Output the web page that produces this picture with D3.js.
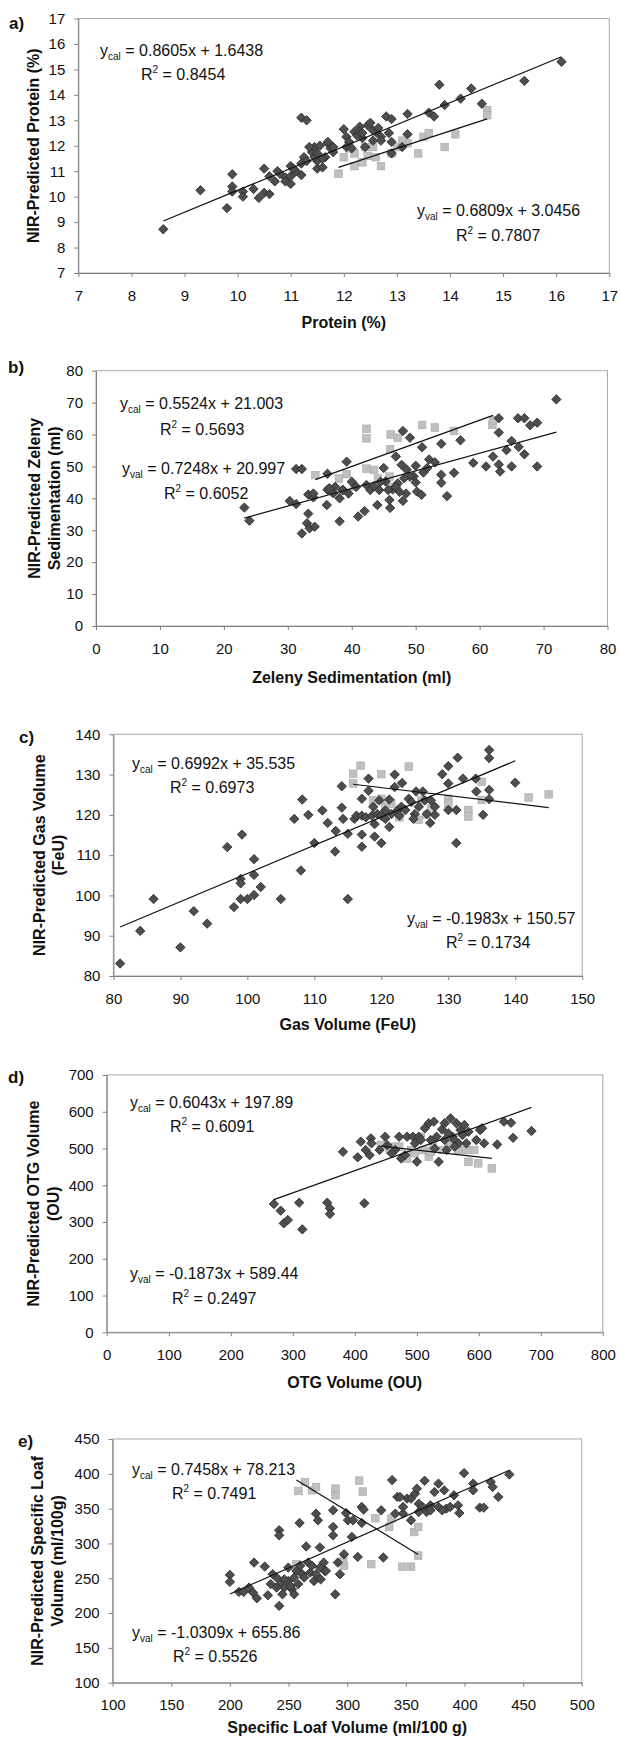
<!DOCTYPE html>
<html>
<head>
<meta charset="utf-8">
<script src="https://cdn.jsdelivr.net/npm/d3@7"></script>
<style>
  body { margin: 0; background: #fff; }
  svg { display: block; }
  text { font-family: "Liberation Sans", Arial, sans-serif; fill: #111; }
</style>
</head>
<body>
<div id="chart"></div>
<script>

// ---- a) protein ----
var proteinTicks = [7, 8, 9, 10, 11, 12, 13, 14, 15, 16, 17];
var proteinCal = [[8.6,8.72],[9.3,10.25],[9.9,10.88],[9.8,9.55],[9.9,10.4],[9.9,10.2],[10.1,10.2],[10.1,10.0],[10.3,10.3],[10.4,9.95],
  [10.5,11.1],[10.5,10.15],[10.6,10.1],[10.6,10.8],[10.7,10.6],[10.8,10.9],[10.9,10.75],[11.0,11.2],[11.0,10.5],[11.0,10.8],
  [10.9,10.6],[11.2,13.1],[11.3,13.0],[11.2,10.85],[11.25,11.55],[11.4,11.75],[11.45,11.95],[11.5,11.1],[11.5,11.4],[11.55,12.0],
  [11.6,11.15],[11.65,11.55],[11.7,12.1],[11.75,11.9],[11.8,11.75],[12.0,12.65],[12.05,12.35],[12.1,12.15],[12.2,12.55],[12.3,12.75],
  [12.35,12.3],[12.45,12.8],[12.5,12.9],[12.55,12.2],[12.6,12.55],[12.7,12.35],[12.8,13.15],[12.9,13.05],[12.85,12.5],[12.9,12.15],
  [13.1,11.95],[13.2,13.25],[13.2,12.45],[13.6,13.3],[13.7,13.15],[13.8,14.4],[13.9,13.6],[14.2,13.85],[14.4,14.25],[14.6,13.65],
  [15.4,14.55],[16.1,15.3],[11.35,11.95],[11.45,11.55],[11.5,11.7],[11.6,11.5],[11.7,12.15],[11.8,11.95],[12.05,11.95],[12.15,11.9],
  [12.25,12.4],[12.3,12.55],[12.35,12.5],[12.55,12.6],[12.65,12.7],[12.7,12.2],[12.4,11.95],[10.75,11.0],[11.1,11.0],[11.2,11.3],
  [11.3,11.4],[11.05,11.1],[12.9,11.7]];
var proteinVal = [[11.9,10.9],[12.2,11.2],[12.4,11.95],[12.45,11.6],[12.7,11.2],[12.6,11.55],[12.9,11.7],[13.4,11.7],[13.2,12.1],
  [13.5,12.35],[13.6,12.5],[13.9,11.95],[14.1,12.45],[14.7,13.4],[14.7,13.2],[12.1,11.9],[12.2,11.7],[12.0,11.55],[12.55,11.95],
  [13.0,11.95],[12.35,11.35],[13.1,12.2]];
var proteinCalFit = [0.8605, 1.6438, 0.8454];
var proteinValFit = [0.6809, 3.0456, 0.7807];

// ---- b) zeleny ----
var zelenyTicks = [0, 10, 20, 30, 40, 50, 60, 70, 80];
var zelenyCal = [[23.2,37.1],[24,33],[31.3,49.2],[32.2,49.2],[30.3,39.2],[31.3,38.2],[33.2,41.2],[33.2,35.2],[33,32.2],[32.2,29],
  [33.4,30.6],[34.2,31.1],[34,40.3],[36.2,47.7],[36.1,37.9],[36.2,42.7],[37.1,41.6],[38.1,32.8],[38.1,40],[38.6,42.7],
  [39.2,51.5],[39.5,41.5],[40,45.2],[41,34.3],[42,36],[42.3,44.2],[44,37.9],[44.3,42.6],[45,49.5],[45.3,45.3],
  [45.9,39.5],[46,37],[46.4,42.8],[46.9,53.1],[47.2,44.7],[47.8,50.5],[48,61.1],[48,39.2],[48.5,41.5],[48.6,49],
  [49.1,59],[49.7,46.9],[50,45],[50,50.2],[50.2,42.1],[50.9,41.1],[51,56],[51.2,48.1],[52.1,52.2],[53,51.3],
  [54,57.1],[54,47.4],[54,44.9],[54.9,40.7],[56,48],[57,58.2],[59,51.1],[61,50],[62.1,53.1],[63,65.1],
  [63,60.6],[63,50.6],[63.2,48.4],[64.2,55.1],[65,58],[65,50],[66,65.1],[66.1,56.1],[67,65.1],[67,53.8],
  [67.9,62.9],[69,63.7],[69,50],[72,71],[37.4,43.6],[38.6,42.5],[40.7,43.6],[42.9,42.6],[43.5,43.8],[44.5,45.2],
  [45.7,42.6],[46.9,43.6],[49.1,46.8],[48.2,46.3],[51.8,49.5],[34,41.5],[36.5,43.2],[47.5,42]];
var zelenyVal = [[42.3,58.8],[42.3,61.8],[34.3,47.3],[38,46.2],[39.2,47.6],[42.3,49.3],[43.5,48.9],[46,55.4],[46.1,60],
  [47.2,59],[51,63],[53,62.2],[56,61.1],[62,63],[62.1,64.5],[40.4,43.6],[44.1,46.2],[45.9,46.8],[45.9,43.6],[37.7,41.5]];
var zelenyCalFit = [0.5524, 21.003, 0.5693];
var zelenyValFit = [0.7248, 20.997, 0.6052];

// ---- c) gas volume ----
var gasXTicks = [80, 90, 100, 110, 120, 130, 140, 150];
var gasYTicks = [80, 90, 100, 110, 120, 130, 140];
var gasCal = [[81,83.1],[84,91.2],[86,99.1],[90,87.1],[92,96.1],[94,93],[97,112],[98,97.1],[99.2,115.1],[99,104.1],
  [99,103],[99,99.1],[100,99.1],[101,109],[101,105.1],[101,100.1],[102,102.1],[105,99.1],[107,119],[108.2,123.8],
  [108,106.2],[109.1,120],[110,113],[111.2,121.1],[112,118],[113.1,110.9],[113.2,116],[114.1,127.1],[114.1,121.8],[114.3,119],
  [115,115.3],[115,99.1],[116,119],[117.1,112.1],[117.1,115.1],[117.1,124],[118.1,129],[118.1,126],[119,114.6],[119,117.7],
  [120,113],[121.2,117],[121.2,123.8],[122,130],[122,126.9],[123.1,127.9],[124.1,124],[125.2,125.8],[126.2,125.8],[127.3,118],
  [128,122],[128,120],[129.1,130.1],[130,132.1],[130,127.8],[130,121.2],[131.2,121.2],[131.2,113],[131.4,134.2],[132.2,129],
  [134.1,129],[134.2,125.8],[135.2,120],[136.1,136.1],[136.1,134.1],[136.1,126.2],[136.1,123.9],[140,128],
  [116.3,119.8],[117.1,119.8],[117.7,119.4],[118.6,119.8],[119.4,120.2],[120,119.8],[120.6,119],[121.5,120.2],[122.4,121.1],
  [123,122],[123.6,121.2],[124.5,123.2],[125,120.2],[125.6,122],[126.5,123.6],[127.4,123.6],[124.8,119],[122.7,119.8],
  [120.6,121.1],[119.7,123.6],[118.8,122],[126.8,120.2]];
var gasVal = [[115.8,130.2],[115.8,127.8],[116.9,132.2],[120,130.1],[124.1,132],[120,124],[120.6,122],[122.7,119.4],
  [126,123.6],[127.5,121.6],[130,124],[130,122.8],[133,121.2],[133,119.6],[135,128.2],[135,123.7],[142,124.3],[145,125.1],
  [126.8,120],[125.6,118.8],[118.8,123.6],[121.5,122.8]];
var gasCalFit = [0.6992, 35.535, 0.6973];
var gasValFit = [-0.1983, 150.57, 0.1734];

// ---- d) OTG volume ----
var otgXTicks = [0, 100, 200, 300, 400, 500, 600, 700, 800];
var otgYTicks = [0, 100, 200, 300, 400, 500, 600, 700];
var otgCal = [[269.6,349],[280.5,331],[285.5,296.5],[292,305.5],[310.4,352.7],[315.5,280],[355.6,352.7],[360,337.3],[360,321.9],
  [381,491],[404.7,476],[409.8,518.6],[415.5,351],[417.5,496],[426,527.6],[427,514],[424,482],[449,532],[452.5,509],
  [471.6,532],[474.8,473],[484.4,532],[494,532],[500.3,464],[503.5,532],[513,555],[519.4,568.6],[527.6,573],[529,500],
  [535.4,464],[540.5,552],[545,568.6],[554.5,582],[557.7,532],[564,568.6],[570.4,550.4],[576.7,564],[580,514],[596,523],
  [602,550.4],[605.4,555],[608.7,514],[629.7,511],[640.6,573],[652,570],[655.3,529],[685,547.5],
  [465.2,496],[481,482],[497,514],[506.5,523],[522.5,523],[532,532],[545,523],[551,541],[561,523],[567.4,514],
  [573.8,536.5],[583.4,545.5],[561,505],[548.2,496],[440,496],[459.2,487]];
var otgVal = [[442,510],[456,500],[465,505],[490.8,496],[506.5,532],[509.6,496],[519.4,478],[522.5,491.5],[541.6,496],[551,514],
  [560.8,514],[567,496],[580,496],[583.4,464],[592.6,496],[599,459.6],[621,446],[484.4,473],[525.7,509],[471.6,505],[497,487]];
var otgCalFit = [0.6043, 197.89, 0.6091];
var otgValFit = [-0.1873, 589.44, 0.2497];

// ---- e) specific loaf volume ----
var loafXTicks = [100, 150, 200, 250, 300, 350, 400, 450, 500];
var loafYTicks = [100, 150, 200, 250, 300, 350, 400, 450];
var loafCal = [[200,254.8],[200,244.8],[207.7,230.4],[211.7,230.4],[220.6,272.5],[216.3,236.6],[219.7,229.5],[223,221.3],
  [229.7,266.8],[232.4,225.6],[234.8,241.6],[239.8,251],[242,319],[242,311.6],[242,210.3],[243,241.6],[246.4,236.6],
  [249.8,246],[253,234],[256.7,260.5],[259.4,329.4],[260,268],[261.7,255.8],[265,295.7],[266.7,272.5],[271.7,246],
  [273.4,342.8],[275,333.3],[276.7,294.3],[280,272.5],[281,260.5],[288,347.6],[288,323.7],[288,311.6],[289.8,227],
  [292,272.5],[293.8,255.8],[297.3,284.5],[299,343.7],[300.6,333.3],[304,309.4],[305,333.3],[309,280.7],[312.4,352.4],
  [314,348.6],[312.4,329.4],[330.8,279.8],[329,347.6],[338.3,391],[342.7,366.8],[347.6,342.8],[351,364.4],[354.4,364.4],
  [357.8,371.5],[359.4,378.7],[354.4,333.3],[361,345.2],[366,390],[367.7,345.2],[371,354.7],[374.4,373.9],[377.8,385.9],
  [382.7,376.3],[384.5,350],[391,369.2],[394.5,354.7],[395.6,343.7],[399.6,401],[407.4,385.9],[407.4,376.3],[413,351.4],
  [416.4,351.4],[422.4,388.3],[424,381.1],[428.8,366.8],[438.2,399],
  [246.4,248.4],[251.5,238.8],[254.8,251],[258.2,241.6],[263.3,251],[268.4,258.1],[270,268],[273.4,255.8],[276.7,265.3],
  [277.4,248.4],[281.8,260.5],[236.5,255.8],[239.8,236.6],[244.8,227],[254.8,227],[249.8,265.3],[341,342.8],[347.6,352.4],
  [361,357],[364.4,352.4],[371,347.6],[377.8,352.4],[381,347.6],[387.8,352.4],[345,366.8]];
var loafVal = [[258.4,375.3],[264,388.2],[270,376.3],[273.4,381],[290,378.7],[290,369.2],[310.2,390.2],[313.3,374.5],
  [297.3,268],[296.6,275.2],[320.5,270.3],[324,336.2],[335.8,323.7],[337.6,335.7],[347,266.6],[354.4,266.6],[357.1,316.4],
  [360.5,282.6],[360.5,323.7],[256.7,270]];
var loafCalFit = [0.7458, 78.213, 0.7491];
var loafValFit = [-1.0309, 655.86, 0.5526];

var width = 620, height = 1738;

var svg = d3.select("#chart")
  .append("svg")
    .attr("width", width)
    .attr("height", height);

// layout of the five panels (pixel boxes: left, right, top, bottom)
var panels = [
  { tag: "a)", tagPos: [9, 29], box: [78.3, 609.3, 18.5, 273], xTitleY: 328,
    xDomain: [7, 17], yDomain: [7, 17], xTicks: proteinTicks, yTicks: proteinTicks,
    cal: proteinCal, val: proteinVal, calFit: proteinCalFit, valFit: proteinValFit,
    xTitle: "Protein (%)", yTitle: ["NIR-Predicted Protein (%)"], yTitleX: [34],
    calEq: [100, 56, 141, 80], valEq: [417, 216, 456, 241] },
  { tag: "b)", tagPos: [8, 373], box: [96, 607.5, 370.7, 626], xTitleY: 683,
    xDomain: [0, 80], yDomain: [0, 80], xTicks: zelenyTicks, yTicks: zelenyTicks,
    cal: zelenyCal, val: zelenyVal, calFit: zelenyCalFit, valFit: zelenyValFit,
    xTitle: "Zeleny Sedimentation (ml)", yTitle: ["NIR-Predicted Zeleny", "Sedimentation (ml)"], yTitleX: [35, 55],
    calEq: [120, 409, 160, 435], valEq: [122, 474, 164, 499] },
  { tag: "c)", tagPos: [19, 743], box: [113.4, 582.2, 734.3, 976], xTitleY: 1030,
    xDomain: [80, 150], yDomain: [80, 140], xTicks: gasXTicks, yTicks: gasYTicks,
    cal: gasCal, val: gasVal, calFit: gasCalFit, valFit: gasValFit,
    xTitle: "Gas Volume (FeU)", yTitle: ["NIR-Predicted Gas Volume", "(FeU)"], yTitleX: [39.5, 59],
    calEq: [132, 769, 170, 793], valEq: [407, 924, 446, 948] },
  { tag: "d)", tagPos: [8, 1083], box: [106.7, 602.8, 1075, 1332.3], xTitleY: 1388,
    xDomain: [0, 800], yDomain: [0, 700], xTicks: otgXTicks, yTicks: otgYTicks,
    cal: otgCal, val: otgVal, calFit: otgCalFit, valFit: otgValFit,
    xTitle: "OTG Volume (OU)", yTitle: ["NIR-Predicted OTG Volume", "(OU)"], yTitleX: [33.5, 53.5],
    calEq: [130, 1108, 170, 1132], valEq: [130, 1279, 172, 1304] },
  { tag: "e)", tagPos: [18, 1447], box: [112.6, 581.8, 1439, 1682.7], xTitleY: 1733,
    xDomain: [100, 500], yDomain: [100, 450], xTicks: loafXTicks, yTicks: loafYTicks,
    cal: loafCal, val: loafVal, calFit: loafCalFit, valFit: loafValFit,
    xTitle: "Specific Loaf Volume (ml/100 g)", yTitle: ["NIR-Predicted Specific Loaf", "Volume (ml/100g)"], yTitleX: [37.5, 58],
    calEq: [132, 1475, 172, 1499], valEq: [132, 1638, 173, 1662] }
];

function equation(g, fit, sub, pos) {
  var sign = fit[1] < 0 ? " - " : " + ";
  var t = g.append("text").attr("x", pos[0]).attr("y", pos[1]).style("font-size", "16px");
  t.append("tspan").text("y");
  t.append("tspan").attr("dy", 4).style("font-size", "10px").text(sub);
  t.append("tspan").attr("dy", -4).text(" = " + fit[0] + "x" + sign + Math.abs(fit[1]));
  var r = g.append("text").attr("x", pos[2]).attr("y", pos[3]).style("font-size", "16px");
  r.append("tspan").text("R");
  r.append("tspan").attr("dy", -7).style("font-size", "10px").text("2");
  r.append("tspan").attr("dy", 7).text(" = " + fit[2]);
}

function trend(g, data, fit, x, y) {
  var ext = d3.extent(data, function(d) { return d[0]; });
  g.append("line")
    .attr("x1", x(ext[0])).attr("y1", y(fit[0] * ext[0] + fit[1]))
    .attr("x2", x(ext[1])).attr("y2", y(fit[0] * ext[1] + fit[1]))
    .attr("stroke", "#111")
    .attr("stroke-width", 1.2);
}

panels.forEach(function(p) {
  var g = svg.append("g");
  var x = d3.scaleLinear().domain(p.xDomain).range([p.box[0], p.box[1]]);
  var y = d3.scaleLinear().domain(p.yDomain).range([p.box[3], p.box[2]]);

  // plot area border
  g.append("rect")
    .attr("x", p.box[0]).attr("y", p.box[2])
    .attr("width", p.box[1] - p.box[0]).attr("height", p.box[3] - p.box[2])
    .attr("fill", "none").attr("stroke", "#a8a8a8");

  var xAxis = g.append("g")
    .attr("transform", "translate(0," + p.box[3] + ")")
    .call(d3.axisBottom(x).tickValues(p.xTicks).tickSize(4).tickSizeOuter(0).tickPadding(13).tickFormat(d3.format("d")));
  var yAxis = g.append("g")
    .attr("transform", "translate(" + p.box[0] + ",0)")
    .call(d3.axisLeft(y).tickValues(p.yTicks).tickSize(4).tickSizeOuter(0).tickPadding(9).tickFormat(d3.format("d")));
  [xAxis, yAxis].forEach(function(a) {
    a.select(".domain").attr("stroke", "#808080");
    a.selectAll(".tick line").attr("stroke", "#808080");
    a.selectAll(".tick text").style("font-size", "15px").attr("fill", "#111");
  });

  // val squares under cal diamonds
  g.selectAll(".val")
    .data(p.val)
    .enter()
    .append("rect")
      .attr("x", function(d) { return x(d[0]) - 3.8; })
      .attr("y", function(d) { return y(d[1]) - 3.8; })
      .attr("width", 7.6).attr("height", 7.6)
      .attr("fill", "#c0c0c0")
      .attr("stroke", "#a6a6a6")
      .attr("stroke-width", 0.6);

  g.selectAll(".cal")
    .data(p.cal)
    .enter()
    .append("path")
      .attr("d", d3.symbol().type(d3.symbolSquare).size(44))
      .attr("transform", function(d) { return "translate(" + x(d[0]) + "," + y(d[1]) + ") rotate(45)"; })
      .attr("fill", "#4e4e4e")
      .attr("stroke", "#2b2b2b")
      .attr("stroke-width", 0.8);

  trend(g, p.cal, p.calFit, x, y);
  trend(g, p.val, p.valFit, x, y);

  equation(g, p.calFit, "cal", p.calEq);
  equation(g, p.valFit, "val", p.valEq);

  // titles
  g.append("text")
    .attr("x", p.tagPos[0]).attr("y", p.tagPos[1])
    .style("font-size", "17px").style("font-weight", "bold")
    .text(p.tag);

  g.append("text")
    .attr("x", (p.box[0] + p.box[1]) / 2).attr("y", p.xTitleY)
    .attr("text-anchor", "middle")
    .style("font-size", "16px").style("font-weight", "bold")
    .text(p.xTitle);

  var cy = (p.box[2] + p.box[3]) / 2;
  p.yTitle.forEach(function(line, i) {
    g.append("text")
      .attr("transform", "translate(" + (p.yTitleX[i] + 5) + "," + cy + ") rotate(-90)")
      .attr("text-anchor", "middle")
      .style("font-size", "16px").style("font-weight", "bold")
      .text(line);
  });
});

</script>
</body>
</html>
